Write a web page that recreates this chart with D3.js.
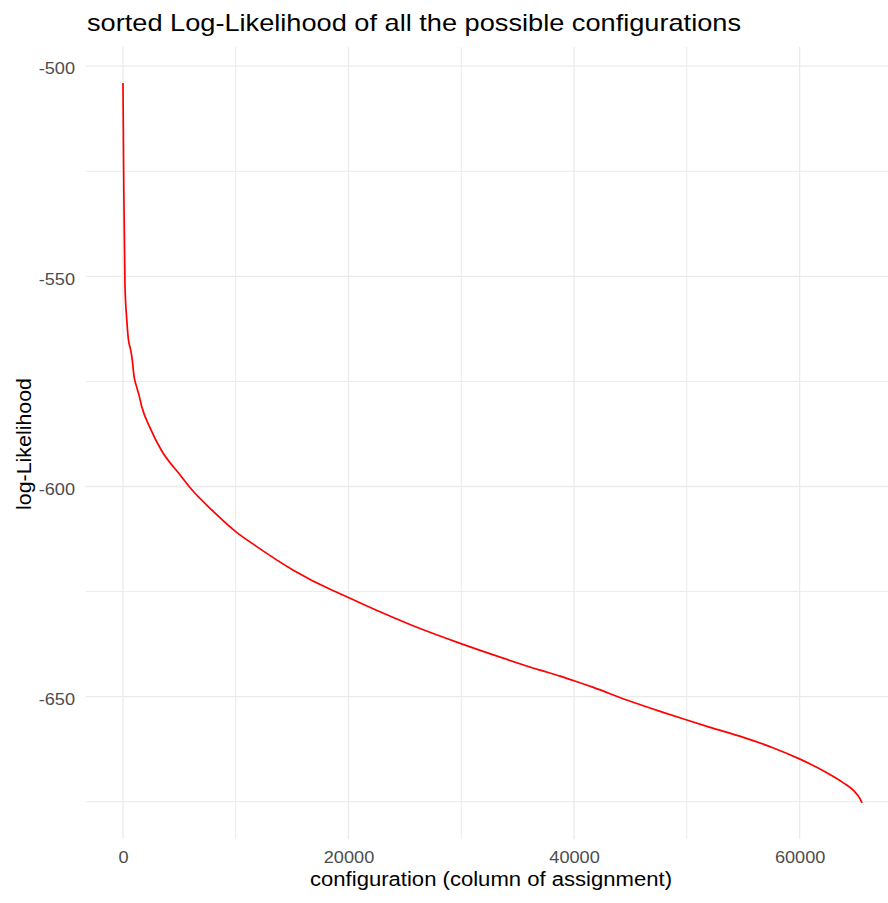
<!DOCTYPE html>
<html>
<head>
<meta charset="utf-8">
<script src="https://cdn.jsdelivr.net/npm/d3@7"></script>
<style>
  html, body { margin: 0; padding: 0; background: #fff; overflow: hidden; }
  svg { display: block; font-family: "Liberation Sans", Arial, sans-serif; }
</style>
</head>
<body>
<div id="chart"></div>
<script>
// configuration index (x) and sorted log-likelihood (y)
const configs = [1, 80, 180, 330, 470, 683, 825, 976, 1215, 1446, 1659, 2395, 3432,
  5055, 6093, 8009, 10084, 11707, 15104, 18652, 19246, 22794, 26341, 30093, 33437,
  36984, 38758, 40000, 41710, 44674, 47627, 49933, 52062, 55016, 57677, 59982,
  62412, 63885, 64772, 65366, 65536];
const logLik = [-504, -530, -552, -560, -564.7, -567.5, -569.8, -573.6, -576.3, -578.5,
  -580.9, -586, -591.5, -597.2, -600.7, -605.9, -610.9, -614.0, -619.9, -624.8, -625.5,
  -629.8, -633.8, -637.5, -640.6, -643.7, -645.1, -646.2, -647.8, -650.8, -653.5,
  -655.5, -657.3, -659.7, -662.2, -664.8, -668.1, -670.5, -672.3, -674.3, -675.3];

const xTicks = [0, 20000, 40000, 60000];
const xMinor = [10000, 30000, 50000];
const yTicks = [-500, -550, -600, -650];
const yMinor = [-525, -575, -625, -675];

const titleText = "sorted Log-Likelihood of all the possible configurations";
const xTitle = "configuration (column of assignment)";
const yTitle = "log-Likelihood";

const width = 888, height = 903;
const panel = { left: 86, right: 899, top: 47, bottom: 839 };
const stretch = 1.1; // the reference text is a little wider than Liberation Sans

const data = configs.map((c, i) => ({ x: c, y: logLik[i] }));

// ggplot-style 5% expansion
const xExt = d3.extent(configs), yExt = d3.extent(logLik);
const xPad = (xExt[1] - xExt[0]) * 0.05, yPad = (yExt[1] - yExt[0]) * 0.05;

const x = d3.scaleLinear()
  .domain([xExt[0] - xPad, xExt[1] + xPad])
  .range([panel.left, panel.right]);
const y = d3.scaleLinear()
  .domain([yExt[0] - yPad, yExt[1] + yPad])
  .range([panel.bottom, panel.top]);

const svg = d3.select("#chart").append("svg")
  .attr("width", width)
  .attr("height", height);

function widen(sel, k) {
  sel.each(function () {
    const len = this.getComputedTextLength();
    d3.select(this).attr("textLength", len * k).attr("lengthAdjust", "spacingAndGlyphs");
  });
}

// grid
const grid = svg.append("g");
grid.selectAll(".vmin").data(xMinor).join("line")
  .attr("x1", d => x(d)).attr("x2", d => x(d))
  .attr("y1", panel.top).attr("y2", panel.bottom)
  .attr("stroke", "#ebebeb").attr("stroke-width", 1);
grid.selectAll(".hmin").data(yMinor).join("line")
  .attr("y1", d => y(d)).attr("y2", d => y(d))
  .attr("x1", panel.left).attr("x2", panel.right)
  .attr("stroke", "#ebebeb").attr("stroke-width", 1);
grid.selectAll(".vmaj").data(xTicks).join("line")
  .attr("x1", d => x(d)).attr("x2", d => x(d))
  .attr("y1", panel.top).attr("y2", panel.bottom)
  .attr("stroke", "#ebebeb").attr("stroke-width", 1.3);
grid.selectAll(".hmaj").data(yTicks).join("line")
  .attr("y1", d => y(d)).attr("y2", d => y(d))
  .attr("x1", panel.left).attr("x2", panel.right)
  .attr("stroke", "#ebebeb").attr("stroke-width", 1.3);

// axes (labels only, like theme_minimal)
svg.append("g")
  .attr("transform", `translate(0,${panel.bottom})`)
  .call(d3.axisBottom(x).tickValues(xTicks).tickFormat(d => String(d)).tickSize(0).tickPadding(12))
  .call(g => g.select(".domain").remove())
  .selectAll("text")
  .attr("fill", "#4d4d4d")
  .attr("font-family", "Liberation Sans, Arial, sans-serif")
  .style("font-size", "16.5px")
  .call(widen, stretch);

svg.append("g")
  .attr("transform", `translate(${panel.left},0)`)
  .call(d3.axisLeft(y).tickValues(yTicks).tickFormat(d => String(d)).tickSize(0).tickPadding(11))
  .call(g => g.select(".domain").remove())
  .selectAll("text")
  .attr("dy", "0.47em")
  .attr("fill", "#4d4d4d")
  .attr("font-family", "Liberation Sans, Arial, sans-serif")
  .style("font-size", "16.5px")
  .call(widen, stretch);

// line
svg.append("path")
  .datum(data)
  .attr("fill", "none")
  .attr("stroke", "#ff0000")
  .attr("stroke-width", 1.7)
  .attr("stroke-linejoin", "round")
  .attr("d", d3.line().curve(d3.curveMonotoneX).x(d => x(d.x)).y(d => y(d.y)));

// titles
svg.append("text")
  .attr("x", 87).attr("y", 30.5)
  .attr("fill", "#000")
  .style("font-size", "24px")
  .attr("textLength", 654).attr("lengthAdjust", "spacingAndGlyphs")
  .text(titleText);

svg.append("text")
  .attr("x", 491).attr("y", 886)
  .attr("text-anchor", "middle")
  .attr("fill", "#000")
  .style("font-size", "20px")
  .attr("textLength", 362).attr("lengthAdjust", "spacingAndGlyphs")
  .text(xTitle);

svg.append("text")
  .attr("transform", `translate(31,444) rotate(-90)`)
  .attr("text-anchor", "middle")
  .attr("fill", "#000")
  .style("font-size", "20px")
  .attr("textLength", 132).attr("lengthAdjust", "spacingAndGlyphs")
  .text(yTitle);
</script>
</body>
</html>
